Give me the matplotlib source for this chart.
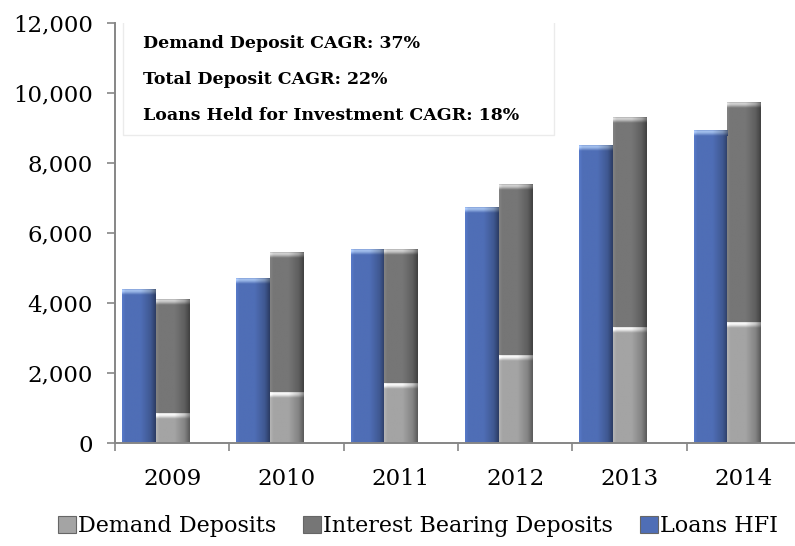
import numpy as np
import matplotlib.pyplot as plt
from matplotlib.colors import to_rgb

years = ['2009', '2010', '2011', '2012', '2013', '2014']
loans_hfi = [4400, 4700, 5550, 6750, 8500, 8950]
demand_deposits = [850, 1450, 1700, 2500, 3300, 3450]
interest_bearing = [3250, 4000, 3850, 4900, 6000, 6300]
cagr_notes = ['Demand Deposit CAGR: 37%',
              'Total Deposit CAGR: 22%',
              'Loans Held for Investment CAGR: 18%']

BLUE = '#4F6EB6'
DARK_GRAY = '#767676'
LIGHT_GRAY = '#A4A4A4'

plt.rcParams['font.family'] = 'DejaVu Serif'


def shade_bars(ax, bars, color, cap_color):
    # horizontal light-to-dark gradient so the bars look rounded,
    # plus a soft highlight fading down from the top edge
    base = np.array(to_rgb(color))
    cap = np.array(to_rgb(cap_color))
    t = np.linspace(0, 1, 60)
    prof = np.interp(t, [0, 0.1, 0.55, 0.85, 1], [1.1, 1.0, 1.0, 0.8, 0.55])
    body = np.clip(base[None, None, :] * prof[None, :, None], 0, 1)
    v = np.interp(np.linspace(0, 1, 12), [0, 0.15, 0.45, 1], [0.55, 1, 0.8, 0])
    mix = v[:, None, None] * cap[None, None, :] + (1 - v[:, None, None]) * base
    top = np.clip(mix * prof[None, :, None], 0, 1)
    cap_h = 170
    for b in bars:
        x0, y0 = b.get_x(), b.get_y()
        w, h = b.get_width(), b.get_height()
        im = ax.imshow(body, extent=(x0, x0 + w, y0, y0 + h), aspect='auto',
                       interpolation='bilinear', zorder=2)
        im.set_clip_path(b)
        ax.imshow(top, extent=(x0, x0 + w, y0 + h - cap_h, y0 + h),
                  aspect='auto', interpolation='bilinear', origin='upper',
                  zorder=3)
        b.set_facecolor('none')


fig = plt.figure(figsize=(7.95, 5.46), dpi=100)
ax = fig.add_axes([115 / 795, 103 / 546, 686 / 795, 420 / 546])

x = np.arange(len(years))
w = 0.29
loan_bars = ax.bar(x - 0.295, loans_hfi, w, color=BLUE, linewidth=0,
                   label='Loans HFI')
dem_bars = ax.bar(x, demand_deposits, w, color=LIGHT_GRAY, linewidth=0,
                  label='Demand Deposits')
int_bars = ax.bar(x, interest_bearing, w, bottom=demand_deposits,
                  color=DARK_GRAY, linewidth=0,
                  label='Interest Bearing Deposits')

shade_bars(ax, loan_bars, BLUE, '#A8C4F0')
shade_bars(ax, dem_bars, LIGHT_GRAY, '#FFFFFF')
shade_bars(ax, int_bars, DARK_GRAY, '#D8D8D8')

ax.set_xlim(-0.5, len(years) - 0.5)
ax.set_ylim(0, 12000)
ax.set_yticks(range(0, 12001, 2000))
ax.set_yticklabels([f'{v:,}' for v in range(0, 12001, 2000)])
ax.set_xticks(x)
ax.set_xticklabels(years)
ax.set_xticks(np.arange(-0.5, len(years)), minor=True)

ax.tick_params(axis='y', labelsize=16.5, length=6, width=1.2, color='#868686',
               pad=10)
ax.tick_params(axis='x', which='major', labelsize=16.5, length=0, pad=18)
ax.tick_params(axis='x', which='minor', length=6, width=1.2, color='#868686')

for s in ['top', 'right']:
    ax.spines[s].set_visible(False)
for s in ['left', 'bottom']:
    ax.spines[s].set_color('#868686')
    ax.spines[s].set_linewidth(1.4)

# CAGR call-out box
ax.add_artist(plt.Rectangle((123 / 795, 1 - 135 / 546), 431 / 795, 114 / 546,
                            transform=fig.transFigure, facecolor='white',
                            edgecolor='#EBEBEB', linewidth=1, zorder=4))
for i, note in enumerate(cagr_notes):
    fig.text(143 / 795, 1 - (44 + 36 * i) / 546, note, fontsize=12.5,
             fontweight='bold', va='center', ha='left', zorder=5)

handles = [dem_bars, int_bars, loan_bars]
leg = fig.legend(handles, [h.get_label() for h in handles], loc='center',
                 bbox_to_anchor=(418 / 795, 1 - 526 / 546), ncol=3,
                 frameon=False, fontsize=16, handlelength=0.8,
                 handleheight=0.8, handletextpad=0.1, columnspacing=1.2)
for patch, c in zip(leg.get_patches(), [LIGHT_GRAY, DARK_GRAY, BLUE]):
    patch.set_facecolor(c)
    patch.set_edgecolor('#666666')
    patch.set_linewidth(0.8)

fig.savefig('out.png', dpi=100)
